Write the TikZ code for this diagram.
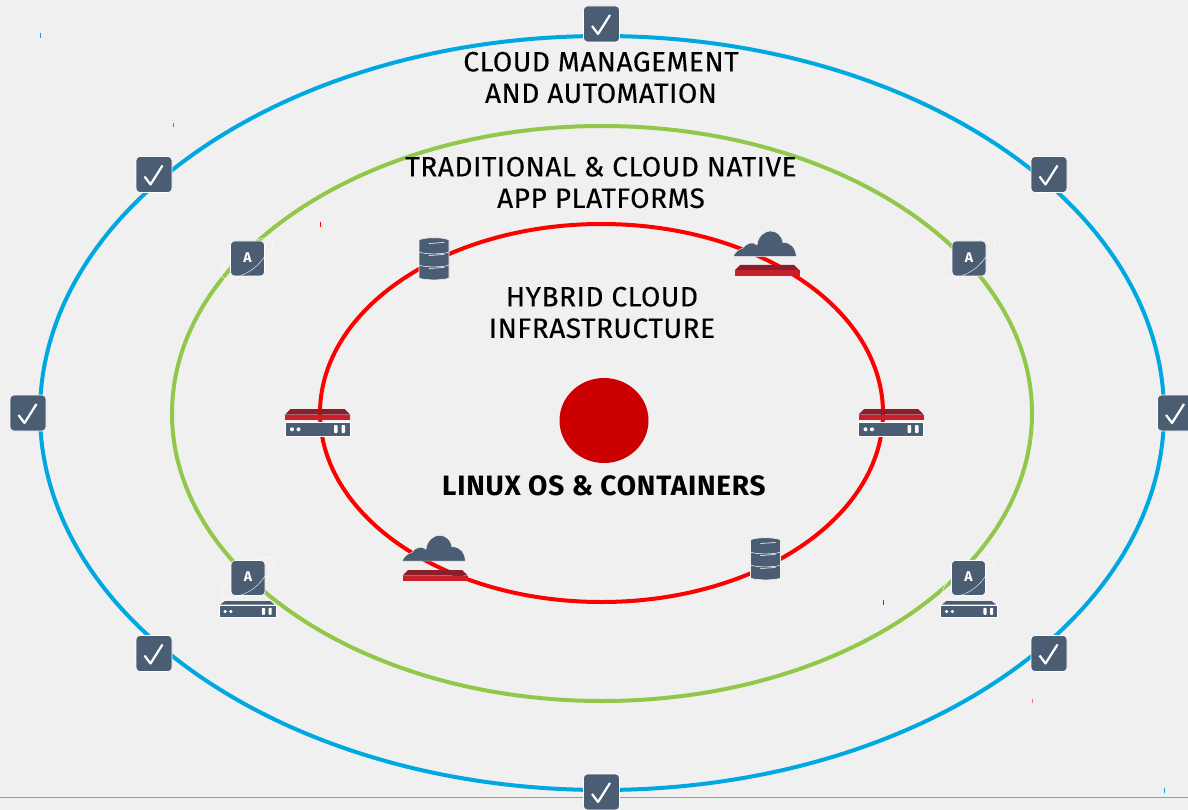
\documentclass[tikz,border=0pt]{standalone}
\usepackage{fontspec}
\setmainfont{Fira Sans}[LetterSpace=2, FakeBold=.3, BoldFeatures={LetterSpace=2.8, FakeBold=0}]
\usetikzlibrary{positioning}
\definecolor{page_gray}{HTML}{F0F0F0}
\definecolor{ring_blue}{HTML}{00A8E1}
\definecolor{ring_green}{HTML}{92C84A}
\definecolor{ring_red}{HTML}{FF0000}
\definecolor{slate}{HTML}{4B5D73}
\definecolor{tray_dark}{HTML}{8A1F2B}
\definecolor{tray_red}{HTML}{C8202A}
\definecolor{core_red}{HTML}{CC0000}
\begin{document}
\begin{tikzpicture}[x=1pt, y=-1pt]
	\tikzset{
		ring/.style={line width=4pt}, % the three big ellipses
		speck/.style={line width=1pt}, % stray ticks around the rings
		ringlabel/.style={align=center, inner sep=0pt, font=\fontsize{28}{31.5}\selectfont, text=black},
		corelabel/.style={inner sep=0pt, font=\fontsize{28}{31.5}\selectfont\bfseries, text=black},
		checkbadge/.pic={
			\filldraw[fill=slate, draw=white, line width=.6pt, rounded corners=4pt] (-18,-18) rectangle (18,18);
			\draw[white, line width=2.2pt, line join=round] (-9.5,2) -- (-3.5,10) -- (8.5,-9);
		},
		appbadge/.pic={
			\draw[white, line width=.4pt, rotate=36] (0,0) ellipse [x radius=31pt, y radius=12pt];
			\filldraw[fill=slate, draw=white, line width=.6pt, rounded corners=4pt] (-17,-17.5) rectangle (17,17.5);
			\draw[white, line width=.4pt] (-7,17) .. controls (3,14) and (12,6) .. (17,-2);
			\node[inner sep=0pt, text=white, font=\fontsize{14}{14}\selectfont\bfseries] (-letter) at (0,-1) {A};
		},
		rackbox/.pic={
			\filldraw[fill=slate, draw=white, line width=.3pt] (-32.5,-1) rectangle (32.5,13);
			\fill[white] (-25.5,6.3) circle (2pt) (-19,6.3) circle (2pt);
			\fill[white, rounded corners=.8pt] (16.5,2) rectangle (20,10) (24,2) rectangle (27.5,10);
		},
		redtray/.pic={
			\fill[tray_dark] (-27,-14) -- (27,-14) -- (32.5,-8.5) -- (-32.5,-8.5) -- cycle;
			\fill[tray_red] (-32.5,-8.5) rectangle (32.5,-3);
		},
		graytray/.pic={
			\fill[slate] (-26,-5.5) -- (26,-5.5) -- (31,-1.5) -- (-31,-1.5) -- cycle;
		},
		cloudicon/.pic={
			\filldraw[fill=slate, draw=white, line width=.4pt] (-32,0) .. controls (-29,-6) and (-25,-8) .. (-22,-8.5)
				.. controls (-20,-13) and (-12,-16) .. (-8,-11.7)
				.. controls (-7,-21) and (0,-25.7) .. (5.3,-25.7)
				.. controls (12,-25.7) and (17,-21) .. (18,-14)
				.. controls (26,-15) and (31,-8) .. (31.3,0) -- cycle;
		},
		dbicon/.pic={
			\foreach \t/\b in {7/20, -6/7, -18/-6} {
				\filldraw[fill=slate, draw=page_gray, line width=.6pt] (-15,\t) -- (-15,\b) .. controls (-10,\b+2.5) and (10,\b+2.5) .. (15,\b)
					-- (15,\t) .. controls (10,\t-3) and (-10,\t-3) .. (-15,\t) -- cycle;
				\draw[white, line width=.6pt] (-5,\t+3.5) -- (10,\t+2.5);
			}
		},
	}
	\useasboundingbox (0,0) rectangle (1188,810);
	\fill[page_gray] (0,0) rectangle (1188,810);
	\draw[gray!80, line width=.7pt] (0,797) -- (1188,797);

	\draw[ring, ring_blue] (602,413) ellipse [x radius=562pt, y radius=377pt];
	\draw[ring, ring_green] (602,413.5) ellipse [x radius=430pt, y radius=287.5pt];
	\draw[ring, ring_red] (601.5,413) ellipse [x radius=281.5pt, y radius=189pt];
	\fill[core_red] (604,420.5) ellipse [x radius=44.5pt, y radius=42.5pt];

	\draw[speck, ring_blue] (40,33) -- (40,38);
	\draw[speck, ring_blue!60!gray] (173,123) -- (173,127);
	\draw[speck, ring_red] (320,222) -- (320,227);
	\draw[speck, ring_red] (883,600) -- (883,605);
	\draw[speck, ring_red!50!page_gray] (1032,699) -- (1032,703);
	\draw[speck, ring_blue] (1164,788) -- (1164,793);

	\node[ringlabel] (mgmt) at (601,77.5) {CLOUD MANAGEMENT\\AND AUTOMATION};
	\node[ringlabel] (apps) at (601,182.5) {TRADITIONAL \& CLOUD NATIVE\\APP PLATFORMS};
	\node[ringlabel] (infra) at (602,312.5) {HYBRID CLOUD\hspace{7pt}\\INFRASTRUCTURE};
	\node[corelabel] (linux) at (604,485.5) {LINUX OS \& CONTAINERS};

	\pic (chk1) at (601.5,24) {checkbadge};
	\pic (chk2) at (154,174.5) {checkbadge};
	\pic (chk3) at (1049,174.5) {checkbadge};
	\pic (chk4) at (28,413) {checkbadge};
	\pic (chk5) at (1175.5,413) {checkbadge};
	\pic (chk6) at (154,653.5) {checkbadge};
	\pic (chk7) at (1049,653.5) {checkbadge};
	\pic (chk8) at (601.5,792) {checkbadge};

	\pic (app1) at (247.5,258.5) {appbadge};
	\pic (app2) at (969,258.5) {appbadge};
	\pic (app3) at (248,578) {appbadge};
	\pic (app4) at (968.5,578) {appbadge};

	\pic[scale=.877] (tray3) at (247.5,606) {graytray};
	\pic[scale=.877] (box3) at (247.5,606) {rackbox};
	\pic[scale=.877] (tray4) at (969,606) {graytray};
	\pic[scale=.877] (box4) at (969,606) {rackbox};

	\pic (tray1) at (317.5,423) {redtray};
	\pic (box1) at (317.5,423) {rackbox};
	\pic (tray2) at (891,423) {redtray};
	\pic (box2) at (891,423) {rackbox};

	\pic (cloud1) at (765,256.7) {cloudicon};
	\pic (rack1) at (767,279) {redtray};
	\pic (cloud2) at (434,561) {cloudicon};
	\pic (rack2) at (435,584) {redtray};

	\pic (db1) at (434,258) {dbicon};
	\pic (db2) at (765.5,558) {dbicon};
\end{tikzpicture}
\end{document}
